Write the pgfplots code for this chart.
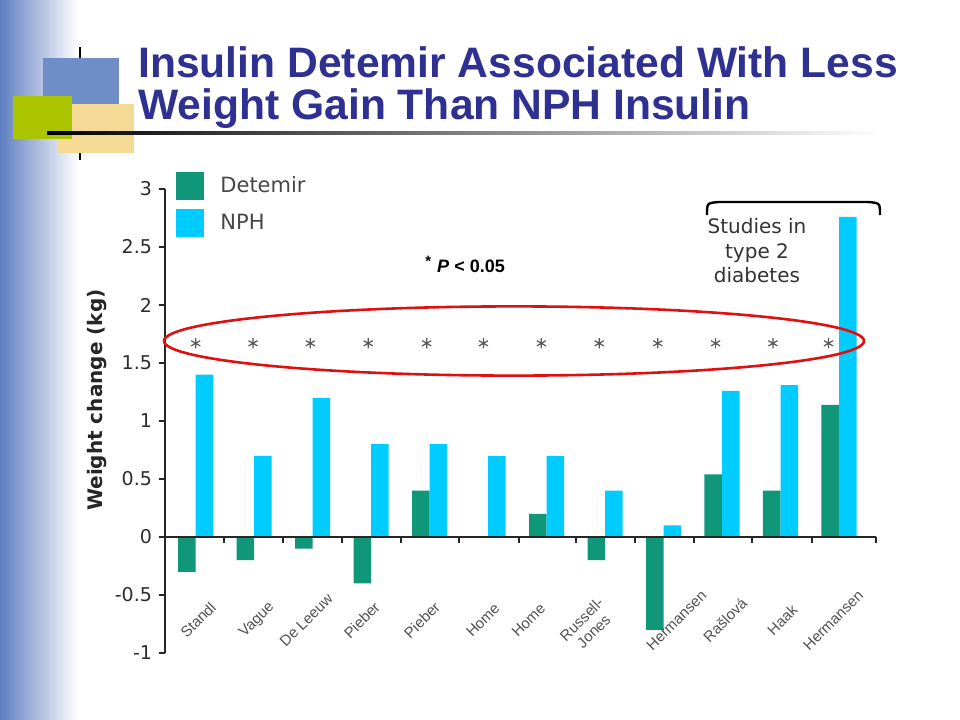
\documentclass[border=0pt]{standalone}
\usepackage{fontspec}
\setmainfont{DejaVu Sans}
\newfontfamily\arialfont{Liberation Sans}
\usepackage{pgfplots}
\pgfplotsset{compat=1.18}
\definecolor{detemir}{RGB}{16,150,120}
\definecolor{nph}{RGB}{0,204,255}
\definecolor{titleblue}{RGB}{46,49,146}
\definecolor{sqblue}{RGB}{111,142,200}
\definecolor{sqgreen}{RGB}{170,196,0}
\definecolor{sqtan}{RGB}{245,218,150}
\definecolor{sideblue}{RGB}{95,126,192}
\definecolor{ellred}{RGB}{222,16,16}
\definecolor{darktxt}{RGB}{45,45,45}
\begin{document}
\begin{tikzpicture}
\begin{scope}[x=0.5bp,y=-0.5bp]
\useasboundingbox (0,0) rectangle (960,720);
\fill[white] (0,0) rectangle (960,720);
\shade[left color=sideblue, right color=white] (0,0) rectangle (78,720);
\draw[black, line width=0.8bp] (80,47) -- (80,60);
\draw[black, line width=0.8bp] (80,150) -- (80,160);
\fill[sqblue] (43,58) rectangle (119,130);
\fill[sqtan] (57,104) rectangle (134,153);
\fill[sqgreen] (13,96) rectangle (72,139);
\shade[left color=black, middle color=black!60, right color=white] (47,131.5) rectangle (880,134.5);
\node[anchor=base west, inner sep=0pt, text=titleblue, font=\arialfont\bfseries\fontsize{21.3bp}{25bp}\selectfont] at (138,78) {Insulin Detemir Associated With Less};
\node[anchor=base west, inner sep=0pt, text=titleblue, font=\arialfont\bfseries\fontsize{21.3bp}{25bp}\selectfont] at (138,119) {Weight Gain Than NPH Insulin};
\end{scope}

\begin{axis}[
  at={(82.5bp,-326.5bp)}, anchor=south west,
  scale only axis, width=355.5bp, height=232bp,
  xmin=-0.525, xmax=11.633, ymin=-1, ymax=3,
  axis y line=left, axis x line=middle,
  axis line style={-, line width=1bp, draw=black!85},
  every inner x axis line/.append style={-},
  every outer y axis line/.append style={-},
  hide obscured y ticks=false,
  hide obscured x ticks=false,
  axis on top,
  tick align=outside, major tick length=3bp,
  tick style={line width=1bp, black!85},
  xtick={0.48,1.49,2.5,3.51,4.51,5.52,6.5,7.52,8.52,9.52,10.53,11.633},
  xticklabels={},
  ytick={-1,-0.5,0,0.5,1,1.5,2,2.5,3},
  yticklabels={-1,-0.5,0,0.5,1,1.5,2,2.5,3},
  yticklabel style={font=\fontsize{9.5bp}{11bp}\selectfont, text=darktxt},
  /pgf/number format/assume math mode=true,
  ylabel={Weight change (kg)},
  ylabel style={at={(rel axis cs:-0.0956,0.545)}, anchor=center, font=\bfseries\fontsize{10bp}{12bp}\selectfont, text=black!85},
  legend style={at={(rel axis cs:0.0155,1.0366)}, anchor=north west, draw=none, fill=white, font=\fontsize{10.5bp}{12bp}\selectfont, text=black!72, row sep=4.5bp, column sep=8bp, inner sep=0pt, nodes={inner sep=0pt}},
  legend cell align=left,
  clip=false,
]
\addplot[ybar, bar width=0.30, bar shift=-0.15, fill=detemir, draw=none,
  legend image code/.code={\fill[detemir] (0bp,-7bp) rectangle (14bp,7bp);}]
  coordinates {(0,-0.3)(1,-0.2)(2,-0.1)(3,-0.4)(4,0.4)(5,0)(6,0.2)(7,-0.2)(8,-0.8)(9,0.54)(10,0.4)(11,1.14)};
\addlegendentry{Detemir}
\addplot[ybar, bar width=0.30, bar shift=0.15, fill=nph, draw=none,
  legend image code/.code={\fill[nph] (0bp,-7bp) rectangle (14bp,7bp);}]
  coordinates {(0,1.4)(1,0.7)(2,1.2)(3,0.8)(4,0.8)(5,0.7)(6,0.7)(7,0.4)(8,0.1)(9,1.26)(10,1.31)(11,2.76)};
\addlegendentry{NPH}
\addplot[only marks, mark=asterisk, mark size=2.6bp, black!65, mark options={line width=0.6bp}, forget plot]
  coordinates {(0,1.67)(0.98,1.67)(1.96,1.67)(2.95,1.67)(3.95,1.67)(4.92,1.67)(5.91,1.67)(6.9,1.67)(7.9,1.67)(8.89,1.67)(9.87,1.67)(10.82,1.67)};
\begin{scope}[every node/.style={rotate=45, font=\arialfont\fontsize{7.5bp}{8.5bp}\selectfont, text=black!68, inner sep=0pt}]
\node at (axis cs:0.04,-0.716) {Standl};
\node at (axis cs:1.05,-0.716) {Vague};
\node at (axis cs:1.89,-0.716) {De Leeuw};
\node at (axis cs:2.84,-0.716) {Pieber};
\node at (axis cs:3.87,-0.716) {Pieber};
\node at (axis cs:4.91,-0.716) {Home};
\node at (axis cs:5.69,-0.716) {Home};
\node[align=center] at (axis cs:6.7,-0.76) {Russell-\\Jones};
\node at (axis cs:8.22,-0.716) {Hermansen};
\node at (axis cs:9.05,-0.716) {Rašlová};
\node at (axis cs:10.03,-0.716) {Haak};
\node at (axis cs:10.9,-0.716) {Hermansen};
\end{scope}
\end{axis}

\begin{scope}[x=0.5bp,y=-0.5bp]
\draw[ellred, line width=1.3bp] (514,341) ellipse [x radius=175bp, y radius=17.3bp];
\node[anchor=base west, inner sep=0pt, font=\arialfont\bfseries\fontsize{9bp}{11bp}\selectfont] at (425,272) {\raisebox{0.28em}{\fontsize{7.5bp}{8bp}\selectfont *}\hspace{3bp}\textit{P} < 0.05};
\draw[black, line width=1.2bp] (707,215) .. controls (707,203) .. (719,202) -- (868,202) .. controls (880,203) .. (880,215);
\node[align=center, inner sep=0pt, text=black!80, font=\fontsize{10bp}{12.25bp}\selectfont] at (757,251) {Studies in\\type 2\\diabetes};
\end{scope}
\end{tikzpicture}
\end{document}
